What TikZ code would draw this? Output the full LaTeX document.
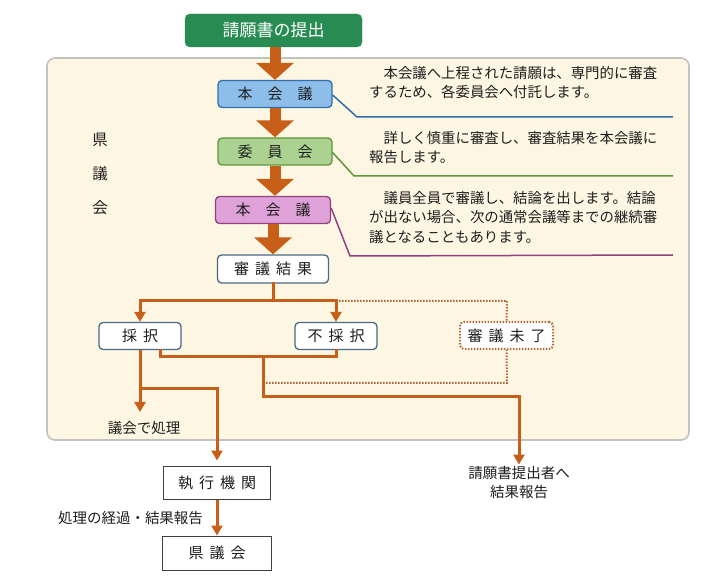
\documentclass[tikz,border=0pt]{standalone}
\usepackage{fontspec}
\setmainfont{Noto Sans CJK JP}
\usetikzlibrary{arrows.meta}
\definecolor{org}{RGB}{200,95,25}
\definecolor{panelfill}{RGB}{253,246,226}
\definecolor{panelline}{RGB}{195,195,190}
\definecolor{topgreen}{RGB}{40,140,82}
\definecolor{bluefill}{RGB}{141,190,234}
\definecolor{blueline}{RGB}{50,110,170}
\definecolor{greenfill}{RGB}{172,210,145}
\definecolor{greenline}{RGB}{95,150,60}
\definecolor{pinkfill}{RGB}{222,162,216}
\definecolor{pinkline}{RGB}{145,65,130}
\definecolor{slate}{RGB}{75,105,135}
\definecolor{dotcol}{RGB}{175,105,60}
\definecolor{txt}{RGB}{30,30,30}
\tikzset{
  lbl/.style={font=\fontsize{15}{18}\selectfont, text=txt},
  colbox/.style={lbl, rounded corners=4pt, line width=1.3pt, minimum height=27pt, inner sep=0pt},
  topbox/.style={fill=topgreen, draw=topgreen, rounded corners=5pt, minimum width=177pt, minimum height=33pt, text=white, font=\fontsize{17}{20}\selectfont, inner sep=0pt},
  whitebox/.style={lbl, fill=white, draw=slate, rounded corners=4pt, line width=1.3pt, minimum height=27pt, inner sep=0pt},
  plainbox/.style={lbl, fill=white, draw=black!75, line width=1pt, minimum height=33pt, inner sep=0pt},
  dotbox/.style={lbl, fill=white, draw=dotcol, rounded corners=4pt, line width=2pt, dash pattern=on 1.5pt off 1.5pt, minimum height=27pt, inner sep=0pt},
  bigarrow/.style={draw=org, line width=11pt, -{Triangle[width=37pt,length=17pt]}},
  oline/.style={draw=org, line width=3pt, line cap=rect},
  oarrow/.style={draw=org, line width=3pt, -{Triangle[width=11pt,length=10pt]}},
  dotline/.style={draw=dotcol, line width=2pt, dash pattern=on 1.5pt off 1.5pt},
  desc/.style={font=\fontsize{14.4}{19.5}\selectfont, text=txt, align=left, anchor=north west, inner sep=0pt},
  small/.style={font=\fontsize{14.5}{19}\selectfont, text=txt, inner sep=0pt, align=center},
}
\begin{document}
\begin{tikzpicture}[x=1pt,y=-1pt]
\useasboundingbox (0,0) rectangle (726,577);
\fill[white] (0,0) rectangle (726,577);
% panel
\draw[fill=panelfill, draw=panelline, line width=1.6pt, rounded corners=8pt] (47,58) rectangle (689,440);

% nodes
\node[topbox] (top) at (273.5,30.5) {請願書の提出};
\node[colbox, fill=bluefill, draw=blueline, minimum width=114pt] (b1) at (275,94) {本　会　議};
\node[colbox, fill=greenfill, draw=greenline, minimum width=114pt] (b2) at (275,151.5) {委　員　会};
\node[colbox, fill=pinkfill, draw=pinkline, minimum width=115pt] (b3) at (273,210) {本　会　議};
\node[whitebox, minimum width=111pt, minimum height=28pt] (res) at (273,269) {審\hspace{6pt}議\hspace{6pt}結\hspace{6pt}果};
\node[whitebox, minimum width=82pt] (sai) at (140,336) {採\hspace{6pt}択};
\node[whitebox, minimum width=82pt] (fusai) at (336,336) {不\hspace{6pt}採\hspace{6pt}択};
\node[dotbox, minimum width=93pt] (mikan) at (506.5,335.5) {審\hspace{6pt}議\hspace{6pt}未\hspace{6pt}了};
\node[plainbox, minimum width=107pt] (shik) at (217,482.5) {執\hspace{6pt}行\hspace{6pt}機\hspace{6pt}関};
\node[plainbox, minimum width=109pt, minimum height=34pt] (kengi) at (217,553) {県\hspace{6pt}議\hspace{6pt}会};

% left vertical label
\node[font=\fontsize{15.5}{34}\selectfont, text=txt, align=center, inner sep=0pt] (side) at (100,174) {県\\議\\会};

% descriptions
\node[desc] (d1) at (369,66) {　本会議へ上程された請願は、専門的に審査\\するため、各委員会へ付託します。};
\node[desc] (d2) at (369,131) {　詳しく慎重に審査し、審査結果を本会議に\\報告します。};
\node[desc] (d3) at (369,191) {　議員全員で審議し、結論を出します。結論\\が出ない場合、次の通常会議等までの継続審\\議となることもあります。};

% callout lines
\coordinate (c1) at (357,117); \coordinate (c1e) at (673,117);
\coordinate (c2) at (354,176); \coordinate (c2e) at (673,176);
\coordinate (c3) at (350,256); \coordinate (c3e) at (673,255);
\draw[blueline, line width=1.5pt] ([yshift=-1pt]b1.east) -- (c1) -- (c1e);
\draw[greenline, line width=1.5pt] ([yshift=-1pt]b2.east) -- (c2) -- (c2e);
\draw[pinkline, line width=1.5pt] ([yshift=2pt]b3.east) -- (c3) -- (c3e);

% big arrows
\draw[bigarrow] (top.south -| b1.north) -- (b1.north);
\draw[bigarrow] (b1.south) -- (b2.north);
\draw[bigarrow] (b2.south) -- (b2.south |- b3.north);
\draw[bigarrow] (b3.south) -- (res.north);

% tree
\coordinate (j1) at (273,301);
\draw[oline] (res.south) -- (j1);
\draw[oline] (sai.north |- j1) -- (fusai.north |- j1);
\draw[oarrow] (sai.north |- j1) -- (sai.north);
\draw[oarrow] (fusai.north |- j1) -- (fusai.north);
\draw[dotline] (fusai.north |- j1) -- (507,301) -- (mikan.north);

\coordinate (j2) at (263,357);
\draw[oline] ([xshift=20pt]sai.south) |- (j2) -| (fusai.south);
\coordinate (dd) at (263,383);
\draw[dotline] (dd) -- (507,383) -- (mikan.south);
\node[small] (rep) at (519,483) {請願書提出者へ\\結果報告};
\coordinate (j3) at (263,397);
\draw[oarrow] (j2) -- (j3) -| ([yshift=2pt]rep.north);

% adopted branch
\coordinate (a1) at (140,412);
\node[small] (gs) at (144,428) {議会で処理};
\draw[oarrow] (sai.south) -- (a1);
\coordinate (j4) at (140,389);
\draw[oarrow] (j4) -| ([yshift=5pt]shik.north);
\draw[oarrow] (shik.south) -- (kengi.north);
\node[small] (keika) at (130.5,518) {処理の経過・結果報告};
\end{tikzpicture}
\end{document}
